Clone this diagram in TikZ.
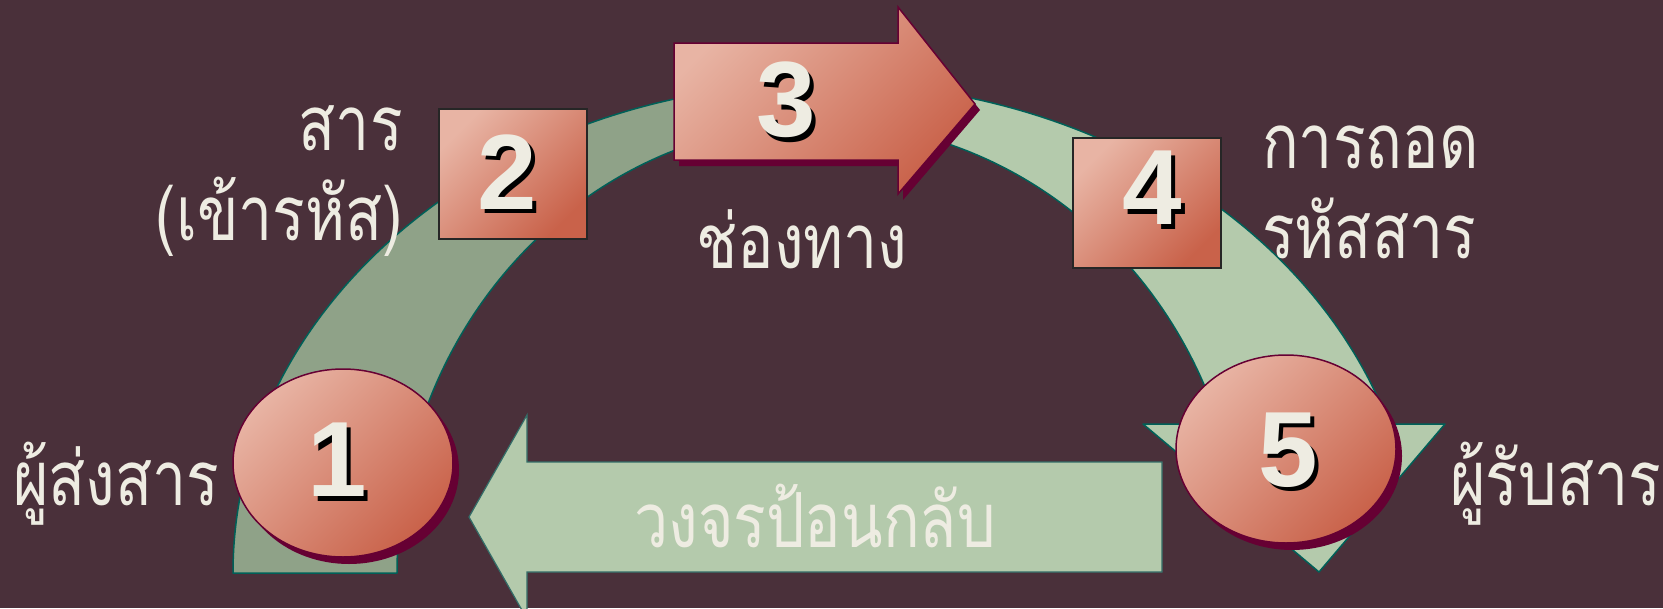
\documentclass[tikz,border=0pt]{standalone}
\usepackage{fontspec}
\usepackage{tikz}
\usetikzlibrary{calc, positioning, shapes.geometric, shadows}
\newfontfamily\thaifont[Script=Thai,FakeStretch=0.8]{Loma}
\newfontfamily\numfont{Liberation Sans}
\definecolor{bgplum}{RGB}{74,48,58}
\definecolor{sagedark}{RGB}{143,162,136}
\definecolor{sagelight}{RGB}{180,202,172}
\definecolor{tealline}{RGB}{0,96,88}
\definecolor{cream}{RGB}{238,236,226}
\definecolor{salmonlight}{RGB}{232,180,164}
\definecolor{salmondark}{RGB}{201,98,74}
\definecolor{wine}{RGB}{102,0,51}
\newcommand{\shadnum}[1]{\rlap{\kern4.5pt\raisebox{-4.5pt}{\color{black}#1}}#1}

\begin{document}
\begin{tikzpicture}[x=1pt, y=-1pt,
  thai/.style={font=\thaifont\fontsize{76}{90}\selectfont, text=cream, inner sep=0pt},
  num/.style={font=\numfont\bfseries\fontsize{107}{107}\selectfont, text=cream, inner sep=0pt},
  salmon/.style={top color=salmonlight, bottom color=salmondark, shading angle=45},
  disc/.style={ellipse, salmon, draw=wine, line width=1.5pt, minimum width=220pt, minimum height=188pt,
    general shadow={fill=wine, shadow xshift=6pt, shadow yshift=-7pt}},
  tile/.style={rectangle, salmon, draw=black!85, line width=1.5pt, minimum width=148pt, minimum height=130pt},
  band/.style={draw=tealline, line width=1.5pt, line join=round}
]
\useasboundingbox (0,0) rectangle (1663,608);
\clip (0,0) rectangle (1663,608);
\fill[bgplum] (0,0) rectangle (1663,608);

% the loop: darker back half, lighter front half with its head
\draw[band, fill=sagedark] (233,573) arc[start angle=180, end angle=270, x radius=592, y radius=490]
  -- (820,123) arc[start angle=270, end angle=180, x radius=423, y radius=450] -- cycle;
\draw[band, fill=sagelight] (825,83) arc[start angle=270, end angle=342.3, x radius=592, y radius=490]
  -- (1445,424) -- (1319,572) -- (1143,424) -- (1219,424)
  arc[start angle=340.7, end angle=270, x radius=423, y radius=450] -- cycle;

% feedback arrow
\draw[fill=sagelight, draw=tealline!60!gray, line width=1.2pt] (1162,462) -- (527,462) -- (527,415)
  -- (469,517) -- (527,619) -- (527,572) -- (1162,572) -- cycle;

% channel arrow
\draw[salmon, draw=wine, line width=1.5pt, general shadow={fill=wine, shadow xshift=5pt, shadow yshift=-6pt}]
  (674,43) -- (898,43) -- (898,7) -- (975,104) -- (898,194) -- (898,160) -- (674,160) -- cycle;

\node (encode) [tile] at (513,174) {};
\node (decode) [tile] at (1147,203) {};
\node (sender) [disc] at (343,463) {};
\node (receiver) [disc] at (1286,449) {};

\node (n1) [num] at (337,462) {\shadnum{1}};
\node (n2) [num] at (507,174) {\shadnum{2}};
\node (n3) [num] at (786,102) {\shadnum{3}};
\node (n4) [num] at (1152,190) {\shadnum{4}};
\node (n5) [num] at (1288,452) {\shadnum{5}};

\node (lsender) [thai, anchor=base west] at (13,505) {ผู้ส่งสาร};
\node (lmsg) [thai, anchor=base east, align=right] at (403,240) {สาร\\(เข้ารหัส)};
\node (lchan) [thai, anchor=base west] at (696,268) {ช่องทาง};
\node (ldec) [thai, anchor=base west, align=left] at (1262,258) {การถอด\\รหัสสาร};
\node (lrecv) [thai, anchor=base west] at (1450,505) {ผู้รับสาร};
\node (lfb) [thai, anchor=base] at (815,547) {วงจรป้อนกลับ};
\end{tikzpicture}
\end{document}
